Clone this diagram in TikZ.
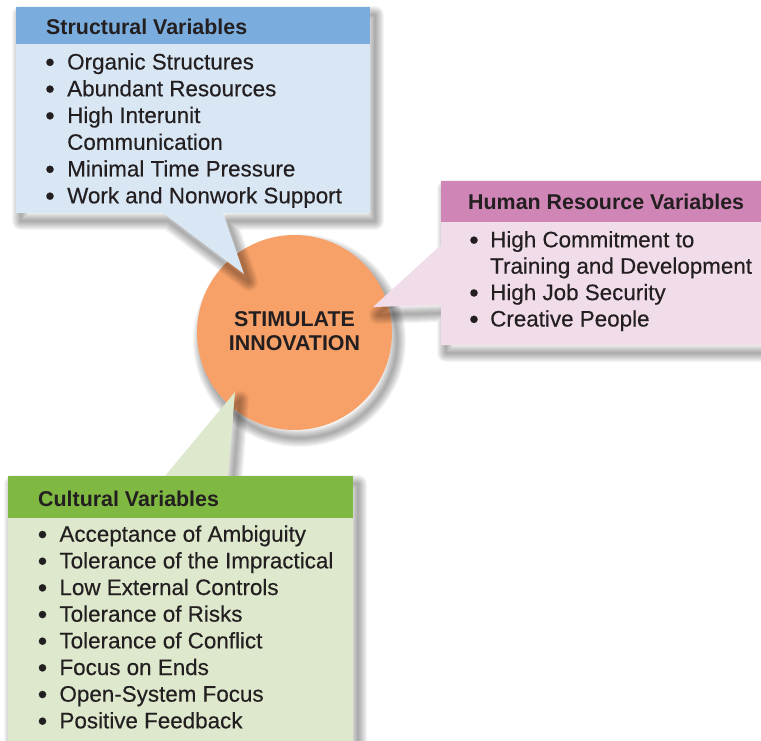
\documentclass[tikz,border=0pt]{standalone}
\usepackage{fontspec}
\setmainfont{Liberation Sans}
\newfontface\medfont{Liberation Sans}[FakeBold=0.35]
\definecolor{ink}{RGB}{35,31,32}
\definecolor{bluehead}{RGB}{122,173,222}
\definecolor{bluebody}{RGB}{217,230,244}
\definecolor{pinkhead}{RGB}{207,134,182}
\definecolor{pinkbody}{RGB}{241,220,234}
\definecolor{greenhead}{RGB}{128,185,66}
\definecolor{greenbody}{RGB}{221,232,205}
\definecolor{coreorange}{RGB}{247,160,103}
\newcommand\softshadow[1]{%
  \foreach \k in {1,...,9}{%
    \draw[black, draw opacity=0.04, line width=\k*2pt, line join=round, shift={(5,8)}] #1;}}
\begin{document}
\begin{tikzpicture}[x=1pt,y=-1pt,
  txt/.style={text=ink, inner sep=0pt, anchor=base west, font=\fontsize{22.4}{26}\medfont},
  bul/.style={text=ink, inner sep=0pt, anchor=base, yshift=-1.8pt, font=\fontsize{27}{30}\medfont},
  head/.style={text=ink, inner sep=0pt, anchor=base west, font=\fontsize{21.4}{25}\bfseries\selectfont},
  coretxt/.style={text=ink, inner sep=0pt, anchor=base, font=\fontsize{21.4}{25}\bfseries\selectfont}]
\fill[white] (0,0) rectangle (761,741);
\useasboundingbox (0,0) rectangle (761,741);

% central circle
\softshadow{(294.5,332.5) circle[radius=97.5]}
\node[circle, fill=coreorange, minimum size=195pt, inner sep=0pt] (core) at (294.5,332.5) {};
\node[coretxt] (core1) at (294.5,326.7) {STIMULATE};
\node[coretxt] (core2) at (294.5,350.7) {INNOVATION};

% structural callout
\softshadow{(16,7) -- (370,7) -- (370,213) -- (223,213) -- (244,274) -- (163,213) -- (16,213) -- cycle}
\fill[bluebody] (16,7) -- (370,7) -- (370,213) -- (223,213) -- (244,274) -- (163,213) -- (16,213) -- cycle;
\fill[bluehead] (16,7) rectangle (370,44);
\node[head] (sh) at (46,35) {Structural Variables};
\node[bul] (sb1) at (50,69.5) {•};
\node[txt] (s1) at (67,69.5) {Organic Structures};
\node[bul] (sb2) at (50,96.3) {•};
\node[txt] (s2) at (67,96.3) {Abundant Resources};
\node[bul] (sb3) at (50,123) {•};
\node[txt] (s3) at (67,123) {High Interunit};
\node[txt] (s4) at (67,149.8) {Communication};
\node[bul] (sb5) at (50,176.5) {•};
\node[txt] (s5) at (67,176.5) {Minimal Time Pressure};
\node[bul] (sb6) at (50,203.3) {•};
\node[txt] (s6) at (67,203.3) {Work and Nonwork Support};

% human resource callout
\softshadow{(441,181) -- (770,181) -- (770,345) -- (441,345) -- (441,305) -- (373,307) -- (441,245) -- cycle}
\fill[pinkbody] (441,181) -- (761,181) -- (761,345) -- (441,345) -- (441,305) -- (373,307) -- (441,245) -- cycle;
\fill[pinkhead] (441,181) rectangle (761,222);
\node[head] (hh) at (468,210) {Human Resource Variables};
\node[bul] (hb1) at (474,247.3) {•};
\node[txt] (h1) at (490,247.3) {High Commitment to};
\node[txt] (h2) at (490,273.7) {Training and Development};
\node[bul] (hb3) at (474,300.1) {•};
\node[txt] (h3) at (490,300.1) {High Job Security};
\node[bul] (hb4) at (474,326.5) {•};
\node[txt] (h4) at (490,326.5) {Creative People};

% cultural callout
\softshadow{(8,476) -- (165,476) -- (235,392) -- (228,476) -- (353,476) -- (353,760) -- (8,760) -- cycle}
\fill[greenbody] (8,476) -- (165,476) -- (235,392) -- (228,476) -- (353,476) -- (353,745) -- (8,745) -- cycle;
\fill[greenhead] (8,476) rectangle (353,518);
\node[head] (ch) at (38,506.5) {Cultural Variables};
\foreach \t [count=\i] in {Acceptance of Ambiguity, Tolerance of the Impractical, Low External Controls, Tolerance of Risks, Tolerance of Conflict, Focus on Ends, Open-System Focus, Positive Feedback} {
  \node[bul] (cb\i) at (42.5,{541.7+(\i-1)*26.66}) {•};
  \node[txt] (c\i) at (59.3,{541.7+(\i-1)*26.66}) {\t};
}
\end{tikzpicture}
\end{document}
